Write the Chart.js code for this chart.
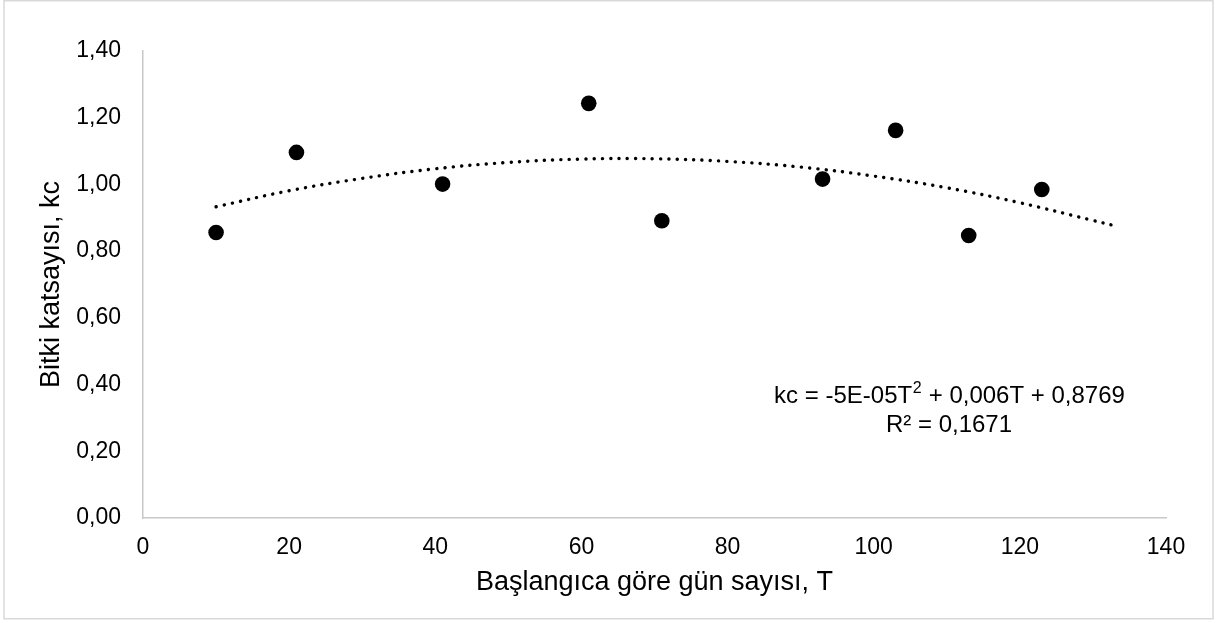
<!DOCTYPE html>
<html>
<head>
<meta charset="utf-8">
<script src="https://cdn.jsdelivr.net/npm/chart.js@4"></script>
<style>
  body { margin: 0; background: #fff; }
  #wrap { position: absolute; left: 0; top: 0; width: 1223px; height: 623px; }
</style>
</head>
<body>
<div id="wrap"><canvas id="myChart" width="1223" height="623"></canvas></div>
<script>
// measured points (gün sayısı, kc)
const days = [10, 21, 41, 61, 71, 93, 103, 113, 123];
const kcValues = [0.856, 1.096, 1.001, 1.243, 0.891, 1.016, 1.162, 0.847, 0.985];

// dotted trendline
const trendDays = [10, 20, 30, 40, 50, 60, 70, 80, 90, 100, 110, 120, 130, 133];
const trendKc = [0.933, 0.981, 1.018, 1.047, 1.066, 1.076, 1.077, 1.069, 1.052, 1.025, 0.990, 0.945, 0.892, 0.876];

const yTicks = [0, 0.2, 0.4, 0.6, 0.8, 1.0, 1.2, 1.4];
const xTicks = [0, 20, 40, 60, 80, 100, 120, 140];

const FONT = "'Liberation Sans', Arial, sans-serif";

function toPoints(xs, ys) {
  let pts = [];
  for (let i = 0; i < xs.length; i++) {
    pts.push({x: xs[i], y: ys[i]});
  }
  return pts;
}

const frame = {
  id: 'frame',
  beforeDraw(chart) {
    const ctx = chart.ctx;
    ctx.save();
    ctx.fillStyle = '#fff';
    ctx.fillRect(0, 0, chart.width, chart.height);
    ctx.strokeStyle = '#d9d9d9';
    ctx.lineWidth = 1.5;
    ctx.strokeRect(4, 0.75, 1209, 618);
    ctx.restore();
  }
};

const equation = {
  id: 'equation',
  afterDraw(chart) {
    const ctx = chart.ctx;
    const cx = 949;
    ctx.save();
    ctx.fillStyle = '#000';
    ctx.textBaseline = 'middle';
    const a = 'kc = -5E-05T';
    const b = ' + 0,006T + 0,8769';
    ctx.font = '24px ' + FONT;
    const wa = ctx.measureText(a).width;
    const wb = ctx.measureText(b).width;
    ctx.font = '16px ' + FONT;
    const ws = ctx.measureText('2').width;
    let x = cx - (wa + ws + wb) / 2;
    ctx.textAlign = 'left';
    ctx.font = '24px ' + FONT;
    ctx.fillText(a, x, 396);
    ctx.font = '16px ' + FONT;
    ctx.fillText('2', x + wa + 0.5, 389);
    ctx.font = '24px ' + FONT;
    ctx.fillText(b, x + wa + ws + 1, 396);
    ctx.textAlign = 'center';
    ctx.fillText('R² = 0,1671', cx, 425);
    ctx.restore();
  }
};

const config = {
  type: 'scatter',
  data: {
    datasets: [
      {
        label: 'trend',
        data: toPoints(trendDays, trendKc),
        showLine: true,
        pointRadius: 0,
        borderColor: '#000',
        borderWidth: 3.4,
        borderDash: [0.1, 8.2],
        borderCapStyle: 'round',
        tension: 0.4,
        order: 0
      },
      {
        label: 'kc',
        data: toPoints(days, kcValues),
        pointRadius: 7.8,
        pointBackgroundColor: '#000',
        pointBorderColor: '#000',
        pointBorderWidth: 0,
        order: 1
      }
    ]
  },
  options: {
    responsive: false,
    animation: false,
    layout: { padding: { top: 51, right: 57, bottom: 0, left: 0 } },
    plugins: {
      legend: { display: false },
      tooltip: { enabled: false }
    },
    scales: {
      x: {
        type: 'linear',
        min: 0,
        max: 140,
        afterBuildTicks: (s) => { s.ticks = xTicks.map(v => ({value: v})); },
        afterFit: (s) => { s.height = 623 - 518; },
        grid: { display: false, drawTicks: false },
        border: { display: true, color: '#c8c8c8', width: 1.5 },
        ticks: { color: '#000', font: { family: FONT, size: 23 }, padding: 16 },
        title: {
          display: true,
          text: 'Başlangıca göre gün sayısı, T',
          color: '#000',
          font: { family: FONT, size: 27 },
          padding: { top: 0, bottom: 24 }
        }
      },
      y: {
        min: 0,
        max: 1.4,
        afterBuildTicks: (s) => { s.ticks = yTicks.map(v => ({value: v})); },
        afterFit: (s) => { s.width = 143; },
        grid: { display: false, drawTicks: false },
        border: { display: true, color: '#c8c8c8', width: 1.5 },
        ticks: {
          color: '#000',
          font: { family: FONT, size: 23 },
          padding: 22,
          callback: (v) => v.toFixed(2).replace('.', ',')
        },
        title: {
          display: true,
          text: 'Bitki katsayısı, kc',
          color: '#000',
          font: { family: FONT, size: 27 },
          padding: { top: 35, bottom: 0 }
        }
      }
    }
  },
  plugins: [frame, equation]
};

const myChart = new Chart(document.getElementById('myChart'), config);
</script>
</body>
</html>
